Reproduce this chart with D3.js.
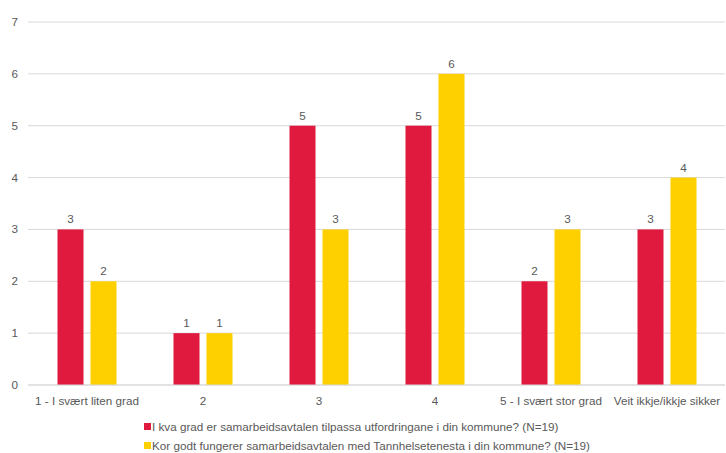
<!DOCTYPE html>
<html><head><meta charset="utf-8">
<script src="https://cdn.jsdelivr.net/npm/d3@7"></script>
<style>body{margin:0;background:#fff;font-family:"Liberation Sans",Arial,sans-serif;}</style>
</head><body><svg id="c" width="726" height="453"></svg>
<script>
const categories = ["1 - I svært liten grad","2","3","4","5 - I svært stor grad","Veit ikkje/ikkje sikker"];
const seriesNames = ["I kva grad er samarbeidsavtalen tilpassa utfordringane i din kommune? (N=19)","Kor godt fungerer samarbeidsavtalen med Tannhelsetenesta i din kommune? (N=19)"];
const series1 = [3,1,5,5,2,3];
const series2 = [2,1,3,6,3,4];
const yTicks = [0,1,2,3,4,5,6,7];
const colors = ["#E0193F","#FFD000"];

(function(){
const svg = d3.select("#c");
const pl = 29, pr = 725, pt = 22, pb = 385;
const fs = 11.7;
const x = d3.scaleBand().domain(categories).range([pl,pr]).padding(0);
const y = d3.scaleLinear().domain([0,7]).range([pb,pt]);
const tc = "#595959";

svg.append("g").selectAll("line").data(yTicks).join("line")
  .attr("x1",pl-1).attr("x2",pr).attr("y1",d=>y(d)).attr("y2",d=>y(d))
  .attr("stroke","#d9d9d9").attr("stroke-width",1);
svg.append("g").selectAll("text").data(yTicks).join("text")
  .attr("x",18).attr("y",d=>y(d)+4).attr("text-anchor","end")
  .attr("font-size",fs).attr("fill",tc).text(d=>d);

const bw = 26, gap = 3.5;
const data = [series1, series2];
data.forEach((s,i)=>{
  const g = svg.append("g");
  g.selectAll("rect").data(s).join("rect")
    .attr("x",(d,j)=>x(categories[j])+x.bandwidth()/2 + (i===0 ? -gap-bw : gap))
    .attr("width",bw)
    .attr("y",d=>y(d)).attr("height",d=>pb-y(d))
    .attr("fill",colors[i]);
  g.selectAll("text").data(s).join("text")
    .attr("x",(d,j)=>x(categories[j])+x.bandwidth()/2 + (i===0 ? -gap-bw/2 : gap+bw/2))
    .attr("y",d=>y(d)-6).attr("text-anchor","middle")
    .attr("font-size",fs).attr("fill",tc).text(d=>d);
});
svg.append("line").attr("x1",pl-1).attr("x2",pr).attr("y1",pb).attr("y2",pb).attr("stroke","#d9d9d9");

svg.append("g").selectAll("text").data(categories).join("text")
  .attr("x",d=>x(d)+x.bandwidth()/2).attr("y",405).attr("text-anchor","middle")
  .attr("font-size",fs).attr("fill",tc).text(d=>d);

const lg = svg.append("g");
seriesNames.forEach((n,i)=>{
  const yy = 427 + i*19;
  lg.append("rect").attr("x",144).attr("y",yy-4).attr("width",7).attr("height",7).attr("fill",colors[i]);
  lg.append("text").attr("x",152).attr("y",yy+4).attr("font-size",fs).attr("fill",tc).text(n);
});
})();
</script></body></html>
